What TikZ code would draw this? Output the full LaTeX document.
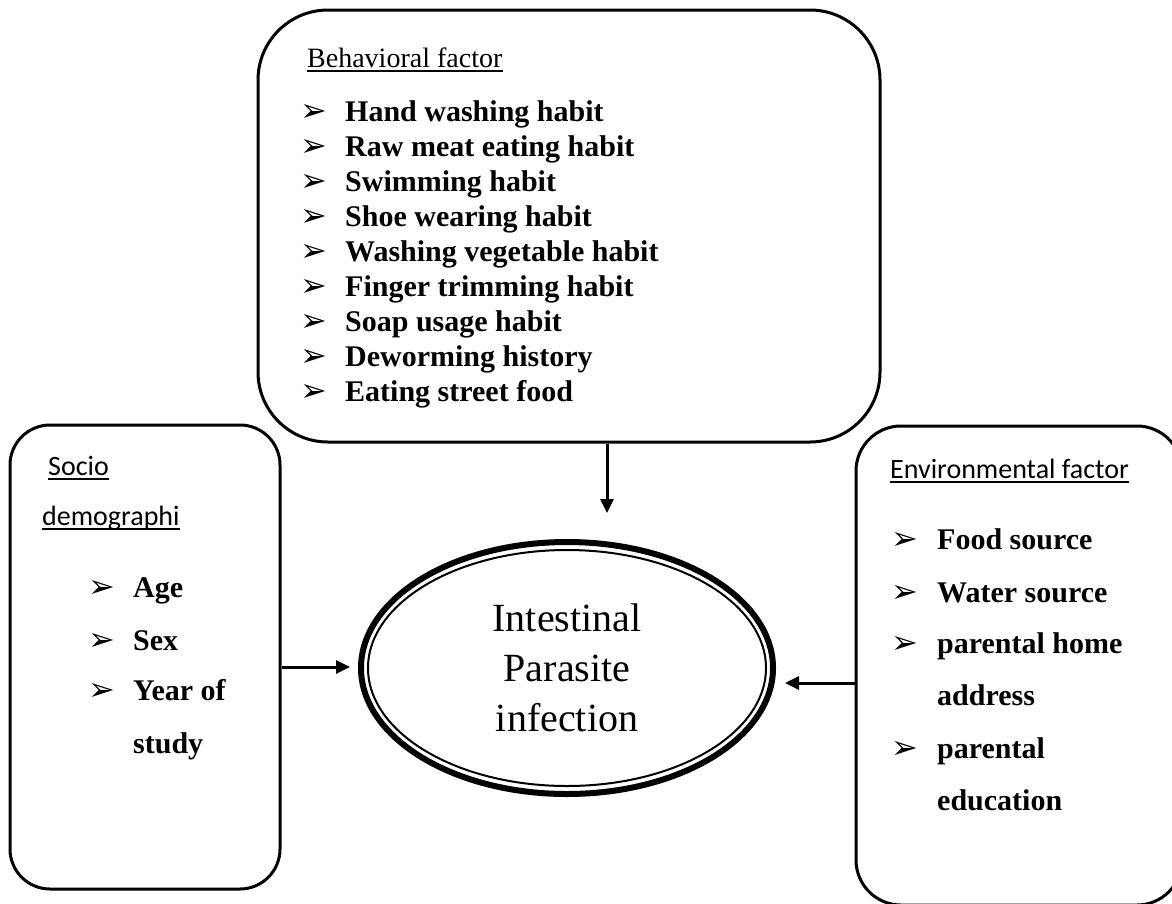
\documentclass[tikz,border=0pt]{standalone}
\usepackage{fontspec}
\setmainfont{Liberation Serif}
\newfontfamily\calfont{Carlito}
\newfontfamily\dvfont{DejaVu Sans}
\usetikzlibrary{shapes.geometric,arrows.meta}
\begin{document}
\begin{tikzpicture}[x=1pt,y=-1pt,
 box/.style={draw, line width=3pt, rounded corners=#1, inner sep=0pt},
 item/.style={anchor=base west, inner sep=0pt, font=\fontsize{30}{35}\selectfont\bfseries},
 bul/.style={anchor=base west, inner sep=0pt, font=\dvfont\fontsize{32}{36}\selectfont},
 head/.style={anchor=base west, inner sep=0pt, font=\fontsize{28}{32}\selectfont},
 calhead/.style={anchor=base west, inner sep=0pt, font=\calfont\fontsize{28}{32}\selectfont},
 ul/.style={line width=2pt},
 arr/.style={line width=3pt, -{Triangle[length=14pt,width=13pt]}}
]
\useasboundingbox (0,0) rectangle (1172,903);
% boxes
\node[box=70pt, minimum width=622pt, minimum height=432pt] (top) at (569,226) {};
\node[box=40pt, minimum width=270pt, minimum height=464pt] (left) at (145,657) {};
\node[box=45pt, minimum width=326pt, minimum height=479pt] (right) at (1019,665.5) {};
% central ellipse
\node[draw, ellipse, line width=6pt, minimum width=412pt, minimum height=252pt, inner sep=0pt,
      align=center, font=\fontsize{40}{50}\selectfont] (ell) at (567,668) {Intestinal\\Parasite\\infection};
\draw[line width=2pt] (ell.center) ellipse [x radius=199pt, y radius=118pt];
% top box text
\node[head] (bh) at (307,67) {Behavioral factor};
\draw[ul] ([yshift=-3.5pt]bh.base west) -- ([yshift=-3.5pt]bh.base east);
\foreach \t [count=\i] in {Hand washing habit, Raw meat eating habit, Swimming habit, Shoe wearing habit, Washing vegetable habit, Finger trimming habit, Soap usage habit, Deworming history, Eating street food}{
  \node[bul] (tb\i) at (300,{121+35*(\i-1)}) {➢};
  \node[item] (ti\i) at (345,{121+35*(\i-1)}) {\t};
}
% left box text
\node[calhead] (sh1) at (48,475) {Socio};
\draw[ul] ([yshift=-4pt]sh1.base west) -- ([yshift=-4pt]sh1.base east);
\node[calhead] (sh2) at (42,525) {demographi};
\draw[ul] ([yshift=-4pt]sh2.base west) -- ([yshift=-4pt]sh2.base east);
\node[bul] (lb1) at (88,597) {➢};
\node[item] (li1) at (133,597) {Age};
\node[bul] (lb2) at (88,650) {➢};
\node[item] (li2) at (133,650) {Sex};
\node[bul] (lb3) at (88,700) {➢};
\node[item] (li3) at (133,700) {Year of};
\node[item] (li4) at (133,753) {study};
% right box text
\node[calhead] (eh) at (890,478) {Environmental factor};
\draw[ul] ([yshift=-4pt]eh.base west) -- ([yshift=-4pt]eh.base east);
\node[bul] (rb1) at (891,549) {➢};
\node[item] (ri1) at (937,549) {Food source};
\node[bul] (rb2) at (891,602) {➢};
\node[item] (ri2) at (937,602) {Water source};
\node[bul] (rb3) at (891,653) {➢};
\node[item] (ri3) at (937,653) {parental home};
\node[item] (ri4) at (937,705) {address};
\node[bul] (rb4) at (891,758) {➢};
\node[item] (ri5) at (937,758) {parental};
\node[item] (ri6) at (937,810) {education};
% connectors
\coordinate (ta) at (607,513);
\coordinate (la) at (350,667);
\coordinate (ra) at (785,683);
\draw[arr] (top.south -| ta) -- (ta);
\draw[arr] (left.east |- la) -- (la);
\draw[arr] (right.west |- ra) -- (ra);
\end{tikzpicture}
\end{document}
